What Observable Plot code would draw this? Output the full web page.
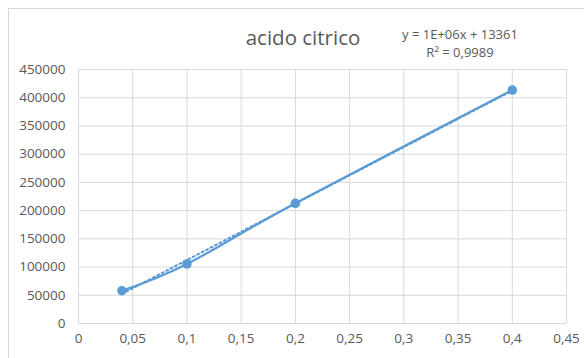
<!DOCTYPE html>
<html>
<head>
<meta charset="utf-8">
<script src="https://cdn.jsdelivr.net/npm/d3@7"></script>
<script src="https://cdn.jsdelivr.net/npm/@observablehq/plot@0.6"></script>
<style>
  html, body { margin: 0; padding: 0; background: #fff; }
  #chart { position: relative; width: 584px; height: 358px; overflow: hidden; font-family: "Open Sans", sans-serif; color: #595959; }
  #frame { position: absolute; left: 8px; top: 8px; width: 600px; height: 400px; border: 1px solid #d9d9d9; box-sizing: border-box; }
  #title { position: absolute; left: 203px; width: 200px; top: 23px; text-align: center; font-size: 20.5px; }
  #eq { position: absolute; left: 390px; width: 140px; top: 25px; text-align: center; font-size: 13px; line-height: 18px; }
  #plot { position: absolute; left: 0; top: 0; }
</style>
</head>
<body>
<div id="chart">
  <div id="frame"></div>
  <div id="plot"></div>
  <div id="title">acido citrico</div>
  <div id="eq">y = 1E+06x + 13361<br>R² = 0,9989</div>
</div>
<script>
// Concentration (x) and measured response (y) for citric acid calibration
const concentrations = [0.04, 0.1, 0.2, 0.4];
const responses = [58000, 105500, 213000, 413500];
const xTicks = [0, 0.05, 0.1, 0.15, 0.2, 0.25, 0.3, 0.35, 0.4, 0.45];
const yTicks = [0, 50000, 100000, 150000, 200000, 250000, 300000, 350000, 400000, 450000];

const data = concentrations.map((c, i) => ({x: c, y: responses[i]}));
const blue = "#5b9bd5";
const grid = "#d9d9d9";
const commaDecimal = d => String(+d.toFixed(2)).replace(".", ",");

const chart = Plot.plot({
  width: 584,
  height: 358,
  marginLeft: 78,
  marginRight: 18,
  marginTop: 69,
  marginBottom: 35,
  style: {fontFamily: "Open Sans, sans-serif", fontSize: "13.5px", color: "#595959", background: "transparent"},
  x: {domain: [0, 0.45], label: null},
  y: {domain: [0, 450000], label: null},
  marks: [
    Plot.gridX(xTicks, {stroke: grid, strokeOpacity: 1, strokeWidth: 1}),
    Plot.gridY(yTicks, {stroke: grid, strokeOpacity: 1, strokeWidth: 1}),
    Plot.axisX({ticks: xTicks, tickFormat: commaDecimal, tickSize: 0, tickPadding: 10, label: null, fill: "#595959"}),
    Plot.axisY({ticks: yTicks, tickFormat: d => String(d), tickSize: 0, tickPadding: 13, label: null, fill: "#595959"}),
    Plot.linearRegressionY(data, {x: "x", y: "y", ci: 0, stroke: blue, strokeWidth: 2, strokeDasharray: "2,3"}),
    Plot.line(data, {x: "x", y: "y", curve: "cardinal", tension: 0, stroke: blue, strokeWidth: 2.25}),
    Plot.dot(data, {x: "x", y: "y", r: 4.75, fill: blue, stroke: "none"})
  ]
});
document.getElementById("plot").appendChild(chart);
</script>
</body>
</html>
